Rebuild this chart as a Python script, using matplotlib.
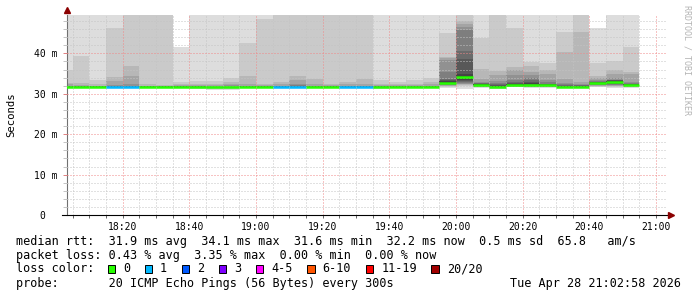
import numpy as np
import pandas as pd
import matplotlib
matplotlib.use("Agg")
import matplotlib.pyplot as plt
import matplotlib.dates as mdates
from matplotlib.patches import Rectangle
from matplotlib.ticker import MultipleLocator

plt.rcParams['font.family'] = ['DejaVu Sans Mono']

# ---------------- data ----------------
# each column = one round of 20 pings, value stamped at the END of its 5-min slot
col_end = pd.date_range("2026-04-28 18:05", "2026-04-28 20:55", freq="5min")

# sorted ping RTTs (ms) per column, p1..p20
pings = [
    [31.5,31.6,31.6,31.7,31.7,31.7,31.7,31.8,31.8,31.8, 31.8,31.8,31.9,31.9,31.9,32.0,32.3,32.7,36.0,58.0],
    [31.5,31.6,31.6,31.7,31.7,31.7,31.7,31.8,31.8,31.8, 31.8,31.8,31.9,31.9,31.9,32.0,32.1,32.7,39.3,62.0],
    [31.5,31.6,31.6,31.7,31.7,31.7,31.7,31.8,31.8,31.8, 31.8,31.8,31.9,31.9,31.9,31.9,32.0,32.3,33.5,60.0],
    [31.5,31.6,31.6,31.7,31.7,31.7,31.7,31.8,31.8,31.8, 31.8,31.8,31.9,31.9,32.0,32.1,33.1,34.1,46.2,65.0],
    [31.5,31.6,31.6,31.7,31.7,31.7,31.7,31.8,31.8,31.8, 31.8,31.8,31.9,31.9,32.0,32.5,34.3,36.8,55.0,70.0],
    [31.5,31.6,31.6,31.7,31.7,31.7,31.7,31.8,31.8,31.8, 31.8,31.8,31.9,31.9,31.9,31.9,32.0,32.5,55.0,65.0],
    [31.6,31.6,31.7,31.7,31.7,31.7,31.8,31.8,31.8,31.8, 31.8,31.8,31.9,31.9,31.9,31.9,32.0,32.1,52.0,60.0],
    [31.6,31.6,31.7,31.7,31.7,31.7,31.8,31.8,31.8,31.8, 31.8,31.8,31.9,31.9,31.9,32.0,32.1,32.3,32.9,41.6],
    [31.2,31.4,31.6,31.7,31.7,31.7,31.8,31.8,31.8,31.8, 31.8,31.8,31.9,31.9,31.9,32.0,32.1,32.3,33.2,60.0],
    [31.0,31.2,31.4,31.5,31.6,31.6,31.7,31.7,31.7,31.7, 31.7,31.7,31.8,31.8,31.8,31.9,32.2,32.5,33.1,60.0],
    [31.0,31.2,31.4,31.5,31.5,31.5,31.6,31.6,31.6,31.6, 31.6,31.6,31.7,31.7,31.8,32.1,32.4,32.9,34.0,60.0],
    [31.6,31.6,31.7,31.7,31.7,31.7,31.8,31.8,31.8,31.8, 31.8,31.8,31.9,31.9,31.9,32.0,32.4,34.3,42.5,60.0],
    [31.6,31.6,31.7,31.7,31.7,31.7,31.8,31.8,31.8,31.8, 31.8,31.8,31.9,31.9,31.9,32.0,32.1,32.3,48.4,60.0],
    [31.6,31.6,31.7,31.7,31.7,31.7,31.8,31.8,31.8,31.8, 31.8,31.8,31.9,31.9,31.9,32.0,32.3,32.9,55.0,65.0],
    [31.6,31.6,31.7,31.7,31.7,31.7,31.8,31.8,31.8,31.8, 31.8,31.8,31.9,31.9,32.2,32.5,33.3,34.4,56.0,66.0],
    [31.6,31.6,31.7,31.7,31.7,31.7,31.8,31.8,31.8,31.8, 31.8,31.8,31.9,31.9,31.9,32.0,32.5,33.7,55.0,64.0],
    [31.6,31.6,31.7,31.7,31.7,31.7,31.8,31.8,31.8,31.8, 31.8,31.8,31.9,31.9,31.9,32.0,32.1,32.3,55.0,63.0],
    [31.6,31.6,31.7,31.7,31.7,31.7,31.8,31.8,31.8,31.8, 31.8,31.8,31.9,31.9,31.9,32.0,32.3,32.9,55.0,63.0],
    [31.6,31.6,31.7,31.7,31.7,31.7,31.8,31.8,31.8,31.8, 31.8,31.8,31.9,31.9,31.9,32.0,32.5,33.6,55.0,64.0],
    [31.3,31.5,31.6,31.7,31.7,31.7,31.8,31.8,31.8,31.8, 31.8,31.8,31.9,31.9,31.9,32.0,32.1,32.4,33.3,60.0],
    [31.5,31.6,31.6,31.7,31.7,31.7,31.8,31.8,31.8,31.8, 31.8,31.8,31.9,31.9,31.9,32.0,32.1,32.3,33.0,60.0],
    [31.5,31.6,31.6,31.7,31.7,31.7,31.8,31.8,31.8,31.8, 31.8,31.8,31.9,31.9,31.9,32.0,32.2,32.5,33.3,60.0],
    [31.5,31.6,31.6,31.7,31.7,31.7,31.8,31.8,31.8,31.8, 31.8,31.8,31.9,31.9,31.9,32.0,32.3,32.8,34.0,60.0],
    [31.5,31.7,31.9,32.0,32.1,32.2,32.3,32.4,32.5,32.6, 32.9,33.1,33.3,33.7,35.4,38.3,38.8,39.1,45.0,60.0],
    [31.3,32.0,32.2,32.4,32.5,32.7,33.0,33.2,33.3,33.8, 34.3,35.0,38.7,40.7,45.7,46.5,47.3,48.1,55.0,66.0],
    [31.5,31.6,31.7,31.8,31.8,31.9,31.9,32.0,32.1,32.1, 32.3,32.4,32.5,32.6,32.7,32.9,33.7,36.1,43.8,60.0],
    [31.3,31.4,31.5,31.6,31.6,31.7,31.7,31.7,31.7,31.7, 31.9,32.0,32.2,32.4,32.6,33.2,34.6,35.7,56.0,66.0],
    [31.6,31.7,31.8,31.8,31.9,31.9,32.0,32.0,32.1,32.1, 32.3,32.4,32.6,32.8,33.3,34.6,35.8,36.6,46.2,60.0],
    [31.5,31.6,31.7,31.8,31.8,31.9,31.9,32.0,32.0,32.0, 32.2,32.6,33.0,33.5,34.0,34.6,35.4,36.9,37.9,62.0],
    [31.5,31.6,31.7,31.8,31.8,31.9,31.9,32.0,32.0,32.0, 32.2,32.3,32.4,32.5,32.8,33.5,34.8,36.0,37.5,60.0],
    [31.4,31.5,31.6,31.6,31.7,31.7,31.7,31.8,31.8,31.8, 31.8,31.9,32.0,32.1,32.3,32.7,33.6,40.3,45.4,62.0],
    [31.4,31.5,31.6,31.6,31.7,31.7,31.7,31.8,31.8,31.8, 31.8,31.9,32.0,32.1,32.2,32.4,32.9,45.4,56.0,66.0],
    [31.7,31.8,31.9,32.0,32.1,32.2,32.3,32.4,32.5,32.5, 32.7,32.8,32.8,32.9,33.1,33.4,33.8,34.4,37.5,46.3],
    [31.5,31.7,31.9,32.0,32.1,32.2,32.3,32.5,32.7,32.9, 33.1,33.2,33.3,33.3,33.4,34.0,34.9,35.8,38.0,60.0],
    [31.5,31.6,31.7,31.8,31.9,31.9,32.0,32.0,32.1,32.1, 32.2,32.3,32.4,32.5,32.6,32.9,34.8,35.4,41.7,60.0],
]

median_rtt = [31.8, 31.8, 31.8, 31.8, 31.8, 31.8, 31.8, 31.8, 31.8, 31.7,
              31.6, 31.8, 31.8, 31.8, 31.8, 31.8, 31.8, 31.8, 31.8, 31.8,
              31.8, 31.8, 31.8, 32.75, 34.05, 32.2, 31.8, 32.2, 32.1, 32.1,
              31.8, 31.8, 32.6, 33.0, 32.15]

loss_count = [0, 0, 0, 1, 1, 0, 0, 0, 0, 0,
              0, 0, 0, 1, 1, 0, 0, 1, 1, 0,
              0, 0, 0, 0, 0, 0, 0, 0, 0, 0,
              0, 0, 0, 0, 0]

loss_labels = ["0", "1", "2", "3", "4-5", "6-10", "11-19", "20/20"]
loss_upper = [0, 1, 2, 3, 5, 10, 19, 20]
loss_colors = ["#26ff00", "#00b8ff", "#0059ff", "#7e00ff",
               "#ff00ff", "#ff5500", "#ff0000", "#a10000"]

y_ticks = [0, 10, 20, 30, 40]
y_ticklabels = ["0\u00a0\u00a0", "10 m", "20 m", "30 m", "40 m"]
x_ticklabels = ["18:20", "18:40", "19:00", "19:20", "19:40",
                "20:00", "20:20", "20:40", "21:00"]

line_median = "median rtt:  31.9 ms avg  34.1 ms max  31.6 ms min  32.2 ms now  0.5 ms sd  65.8   am/s"
line_loss = "packet loss: 0.43 % avg  3.35 % max  0.00 % min  0.00 % now"
line_probe = "probe:       20 ICMP Echo Pings (56 Bytes) every 300s"
stamp = "Tue Apr 28 21:02:58 2026"

# ---------------- figure ----------------
W, H = 697, 297
fig = plt.figure(figsize=(W / 100, H / 100), dpi=100)
fig.patch.set_facecolor("white")
ax = fig.add_axes([66.5 / W, (H - 215) / H, 600 / W, 200 / H])
ax.set_facecolor("white")

P = np.array(pings)
starts = col_end - pd.Timedelta(minutes=5)
xe = mdates.date2num(list(starts) + [col_end[-1]])
npings = P.shape[1]
half = npings // 2
for k in range(half):
    lo = P[:, k]
    hi = P[:, npings - 1 - k]
    g = int(190 / half * (half - (k + 1))) + 50
    ax.fill_between(xe, np.append(lo, lo[-1]), np.append(hi, hi[-1]), step="post",
                    color="#%02x%02x%02x" % (g, g, g), lw=0, antialiased=False, zorder=1)

cidx = [int(np.searchsorted(loss_upper, c)) for c in loss_count]
ax.hlines(median_rtt, mdates.date2num(starts), mdates.date2num(col_end),
          colors=[loss_colors[i] for i in cidx], lw=1.8, zorder=3, capstyle="butt")

ax.set_xlim(pd.Timestamp("2026-04-28 18:03:10"), pd.Timestamp("2026-04-28 21:03:10"))
ax.set_ylim(0, 49.5)

xt = [pd.Timestamp("2026-04-28 " + s) for s in x_ticklabels]
ax.set_xticks(xt, x_ticklabels)
ax.xaxis.set_minor_locator(mdates.MinuteLocator(byminute=range(0, 60, 5)))
ax.set_yticks(y_ticks, y_ticklabels)
ax.yaxis.set_minor_locator(MultipleLocator(2))

ax.set_axisbelow(False)
ax.grid(which="minor", color="#c4c4c4", linestyle=(0, (1, 2)), lw=0.72)
ax.grid(which="major", color="#f08888", linestyle=(0, (1, 2)), lw=0.72)

ax.tick_params(axis="both", which="both", labelsize=7, direction="out")
ax.tick_params(axis="x", which="both", length=2.2, width=0.7, color="#666666", pad=3)
ax.tick_params(axis="y", which="major", length=3, width=0.7, color="#e08080", pad=3.5)
ax.tick_params(axis="y", which="minor", length=3, width=0.7, color="#c4c4c4")

for s in ("top", "right", "bottom"):
    ax.spines[s].set_visible(False)
ax.spines["left"].set_color("#707070")
ax.spines["left"].set_linewidth(0.8)
ax.plot([-4.5 / 600, 1.0], [0, 0], transform=ax.transAxes, color="black",
        lw=0.8, clip_on=False, zorder=5)
ax.plot([1 + 4 / 600], [0], marker=">", markersize=4.2, color="#8b0000",
        transform=ax.transAxes, clip_on=False, zorder=6)
ax.plot([0], [1 + 4.5 / 200], marker="^", markersize=4.2, color="#8b0000",
        transform=ax.transAxes, clip_on=False, zorder=6)

fig.text(11 / W, 1 - 115 / H, "Seconds", rotation=90, fontsize=7.7,
         ha="center", va="center")
fig.text(687 / W, 1 - 60 / H, "RRDTOOL / TOBI OETIKER", rotation=270,
         fontsize=6, color="#b4b4b4", ha="center", va="center")

fs = 8.5
cw = fs * 100 / 72 * 0.602
x0 = 16
fig.text(x0 / W, 1 - 241 / H, line_median, fontsize=fs, va="center", ha="left")
fig.text(x0 / W, 1 - 255 / H, line_loss, fontsize=fs, va="center", ha="left")
fig.text(x0 / W, 1 - 269 / H, "loss color:", fontsize=fs, va="center", ha="left")
fig.text(x0 / W, 1 - 283 / H, line_probe, fontsize=fs, va="center", ha="left")
fig.text(681 / W, 1 - 283 / H, stamp, fontsize=fs, va="center", ha="right")

bx = 107.5
bs = 7.5
for lab, col in zip(loss_labels, loss_colors):
    fig.add_artist(Rectangle((bx / W, 1 - (269 + bs / 2) / H), bs / W, bs / H,
                             transform=fig.transFigure, facecolor=col,
                             edgecolor="black", lw=0.7))
    lx = bx + 15.5
    fig.text(lx / W, 1 - 269 / H, lab, fontsize=fs, va="center", ha="left")
    bx = lx + len(lab) * cw + 14.5

fig.savefig("out.png", dpi=100)
